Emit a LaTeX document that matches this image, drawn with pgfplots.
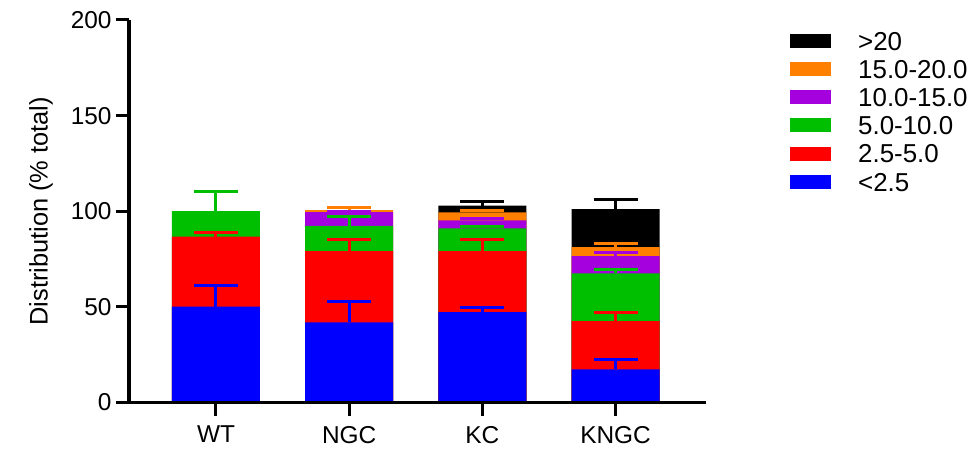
\documentclass[border=0pt]{standalone}
\usepackage{fontspec}
\setmainfont{Liberation Sans}
\usepackage{pgfplots}
\pgfplotsset{compat=1.18}
\definecolor{cblue}{RGB}{0,0,255}
\definecolor{cred}{RGB}{255,0,0}
\definecolor{cgreen}{RGB}{0,190,0}
\definecolor{cpurple}{RGB}{165,0,222}
\definecolor{corange}{RGB}{255,128,0}
\definecolor{cblack}{RGB}{0,0,0}
\pgfplotsset{
  seg/.style={fill=#1, draw=none,
    error bars/.cd, y dir=plus, y explicit,
    error bar style={#1, line width=3bp},
    error mark options={#1, line width=3bp, mark size=22bp, rotate=90},
    /pgfplots/.cd,
    legend image code/.code={\fill[#1] (0bp,-7bp) rectangle (41bp,7bp);}},
}
\begin{document}
\begin{tikzpicture}
\useasboundingbox (0,0) rectangle (974bp,451bp);
\begin{axis}[
  at={(129bp,48.5bp)}, anchor=south west,
  scale only axis, width=577bp, height=382.5bp,
  xmin=-0.653, xmax=3.679, ymin=0, ymax=200,
  axis lines*=left,
  axis line style={line width=3bp, black},
  axis on top,
  xtick={0,1,2,3}, xticklabels={WT,NGC,KC,KNGC},
  ytick={0,50,100,150,200},
  tick align=outside, major tick length=13bp,
  tick style={line width=3bp, black},
  ticklabel style={font=\fontsize{24.5}{28}\selectfont},
  xticklabel style={yshift=-7bp},
  yticklabel style={xshift=-1bp},
  /pgf/number format/assume math mode=true,
  ylabel={Distribution (\% total)},
  every axis y label/.style={at={(axis description cs:-0.1525,0.5)}, rotate=90, anchor=center, font=\fontsize{25.5}{30}\selectfont},
  ybar, bar width=88bp, bar shift=0pt,
  legend style={at={(axis description cs:1.1456,0.9758)}, anchor=north west, draw=none, fill=none,
    font=\fontsize{26}{30}\selectfont, inner sep=0pt, row sep=5.5bp,
    nodes={text height=18.7bp, text depth=0bp},
    /tikz/every odd column/.append style={column sep=25bp}},
  legend cell align=left,
]
\addplot[seg=cblack] coordinates {(2,102.9) +- (0,2.1) (3,101.1) +- (0,5.1)};
\addlegendentry{>20}
\addplot[seg=corange] coordinates {(1,100.6) +- (0,1.4) (2,99.4) +- (0,1.1) (3,81.3) +- (0,2.0)};
\addlegendentry{15.0-20.0}
\addplot[seg=cpurple] coordinates {(1,99.6) +- (0,0.5) (2,95.2) +- (0,0.9) (3,76.6) +- (0,1.8)};
\addlegendentry{10.0-15.0}
\addplot[seg=cgreen] coordinates {(0,100.1) +- (0,10.2) (1,92.4) +- (0,4.9) (2,91.0) +- (0,0.8) (3,67.5) +- (0,1.9)};
\addlegendentry{5.0-10.0}
\addplot[seg=cred] coordinates {(0,86.7) +- (0,2.2) (1,79.2) +- (0,5.8) (2,79.2) +- (0,5.8) (3,42.6) +- (0,4.6)};
\addlegendentry{2.5-5.0}
\addplot[seg=cblue] coordinates {(0,50.1) +- (0,11.2) (1,41.9) +- (0,10.8) (2,47.2) +- (0,2.4) (3,17.3) +- (0,5.3)};
\addlegendentry{<2.5}
\end{axis}
\end{tikzpicture}
\end{document}
